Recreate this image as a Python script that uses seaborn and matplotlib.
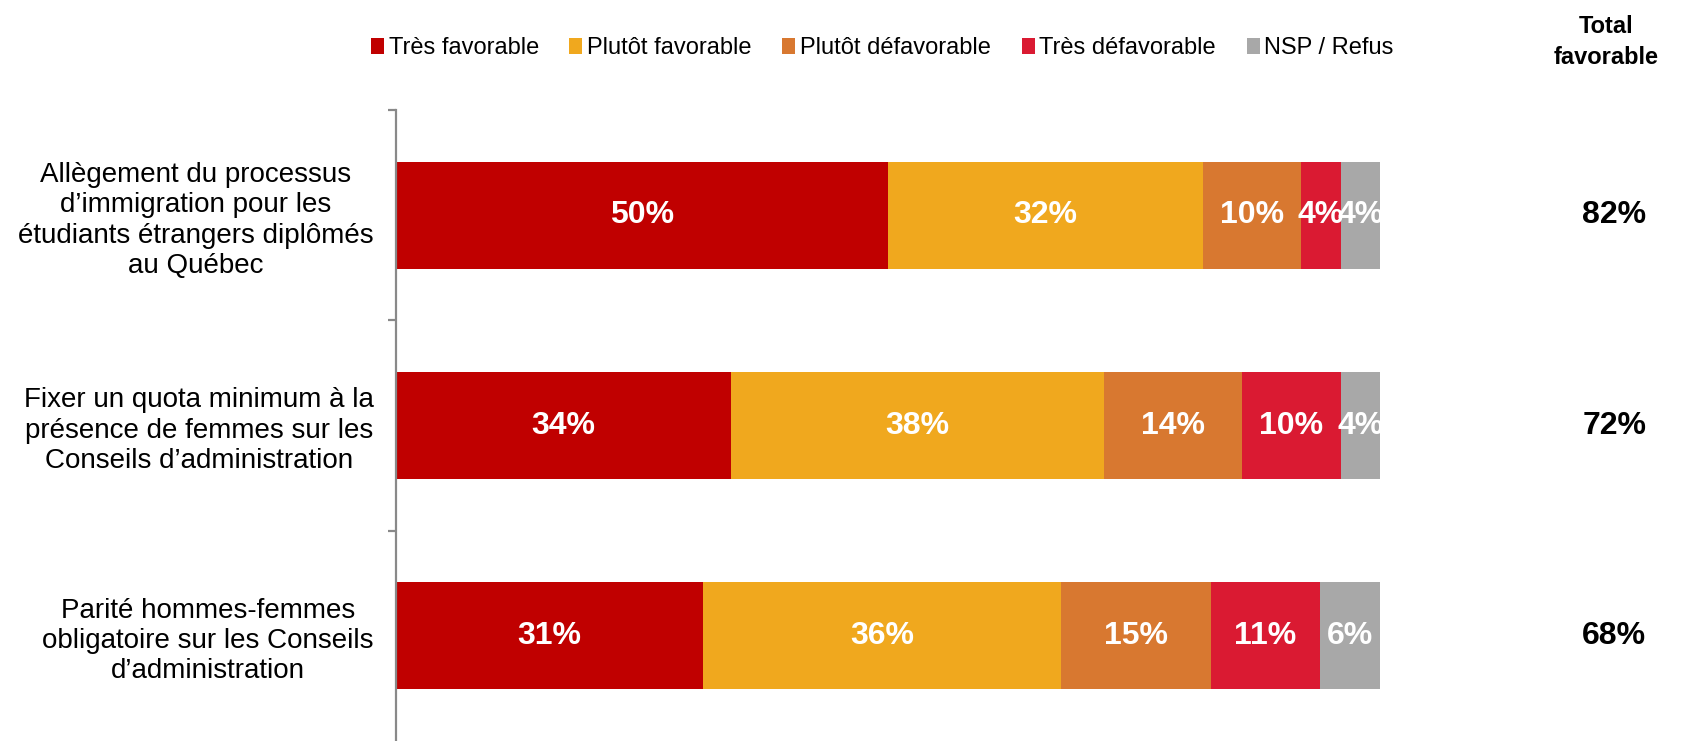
import numpy as np
import pandas as pd
import matplotlib
matplotlib.use("Agg")
import matplotlib.pyplot as plt
from matplotlib.patches import Patch
import seaborn as sns

sns.set_theme(style="white")
plt.rcParams['font.family'] = ['Liberation Sans', 'DejaVu Sans']
plt.rcParams['text.color'] = 'black'
plt.rcParams['ytick.labelcolor'] = 'black'

# données
questions = [
    "Allègement du processus\nd’immigration pour les\nétudiants étrangers diplômés\nau Québec",
    "Fixer un quota minimum à la\nprésence de femmes sur les\nConseils d’administration",
    "Parité hommes-femmes\nobligatoire sur les Conseils\nd’administration",
]
categories = ["Très favorable", "Plutôt favorable", "Plutôt défavorable", "Très défavorable", "NSP / Refus"]
tres_favorable = [50, 34, 31.2]
plutot_favorable = [32, 38, 36.4]
plutot_defavorable = [10, 14, 15.2]
tres_defavorable = [4, 10, 11.1]
nsp_refus = [4, 4, 6.1]
total_favorable = [82, 72, 68]
couleurs = ["#C00000", "#F0A81E", "#D87830", "#DA1A32", "#A8A8A8"]

series = [tres_favorable, plutot_favorable, plutot_defavorable, tres_defavorable, nsp_refus]
df = pd.DataFrame(dict(zip(categories, series)), index=questions)
cumul = df.cumsum(axis=1)

fig = plt.figure(figsize=(16.87, 7.41), dpi=100)
ax = fig.add_axes([396 / 1687, 0.0, 984 / 1687, 1 - 110 / 741])

# barres empilées : on dessine les cumuls du plus grand au plus petit
for cat, col in reversed(list(zip(categories, couleurs))):
    sns.barplot(x=cumul[cat].values, y=questions, color=col, orient="h",
                width=0.51, saturation=1, ax=ax, linewidth=0)

# étiquettes dans les segments
for i, q in enumerate(questions):
    debut = 0
    for cat in categories:
        v = df.loc[q, cat]
        ax.text(debut + v / 2, i, f"{v:.0f}%", ha="center", va="center",
                color="white", fontsize=23, fontweight="bold")
        debut += v
    ax.text(123.8, i, f"{total_favorable[i]}%", ha="center", va="center",
            fontsize=23, fontweight="bold", clip_on=False)

ax.set_xlim(0, 100)
ax.set_ylim(2.5, -0.5)
ax.set_xlabel("")
ax.set_ylabel("")
ax.set_xticks([])
for s in ["top", "right", "bottom"]:
    ax.spines[s].set_visible(False)
ax.spines["left"].set_color("#898989")
ax.spines["left"].set_linewidth(1.6)

ax.set_yticks(range(len(questions)))
ax.set_yticklabels(questions, fontsize=20)
ax.set_yticks([-0.5, 0.5, 1.5], minor=True)
ax.tick_params(axis="y", which="major", length=0, pad=16)
ax.tick_params(axis="y", which="minor", left=True, length=6, width=1.6,
               color="#898989", direction="out")
for lab in ax.get_yticklabels():
    lab.set_multialignment("center")
    lab.set_linespacing(1.22)

# légende
handles = [Patch(facecolor=c, edgecolor="none") for c in couleurs]
fig.legend(handles, categories, loc="center", bbox_to_anchor=(0.523, 0.935),
           ncol=5, frameon=False, fontsize=17, handlelength=0.55, handleheight=0.7,
           handletextpad=0.2, columnspacing=1.3, borderaxespad=0)

fig.text(1606 / 1687, 1 - 42 / 741, "Total\nfavorable", ha="center", va="center",
         fontsize=17, fontweight="bold", linespacing=1.4)

fig.savefig("out.png", dpi=100)
